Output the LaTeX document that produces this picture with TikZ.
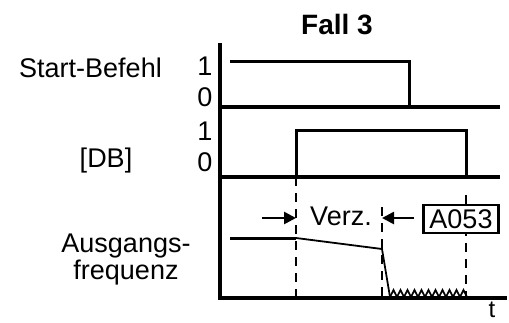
\documentclass[tikz,border=0pt]{standalone}
\usepackage{fontspec}
\setmainfont{Liberation Sans}
\usetikzlibrary{arrows.meta,positioning}

\begin{document}
\begin{tikzpicture}[x=1pt,y=-1pt,
    lbl/.style={font=\fontsize{27}{27}\selectfont,inner sep=0pt},
    sig/.style={line width=3pt,line join=miter},
    axisline/.style={line width=3.4pt},
    dashline/.style={line width=2.2pt,dash pattern=on 9pt off 7pt},
    delay/.style={line width=2.6pt,-{Triangle[length=12pt,width=12pt]}}]
  \useasboundingbox (0,0) rectangle (509,322);
  % Title and row labels
  \node[lbl,font=\bfseries\fontsize{28}{28}\selectfont,anchor=base] (title) at (337,34) {Fall 3};
  \node[lbl,anchor=base west] (start) at (19,77) {Start-Befehl};
  \node[lbl,anchor=base] (db) at (106,167) {[DB]};
  \node[lbl,align=center,anchor=base] (freq) at (126,279) {Ausgangs-\\frequenz};
  \foreach \y/\v/\n in {75/1/s1,106/0/s0,140/1/d1,171/0/d0}
    \node[lbl,anchor=base] (\n) at (205,\y) {\v};
  % Axes
  \draw[axisline] (220,43) -- (220,298);
  \draw[axisline] (218,298) -- (507,298);
  \node[lbl,font=\fontsize{24}{24}\selectfont,anchor=base] (t) at (492,317) {t};
  % Start-Befehl
  \draw[axisline] (220,107) -- (500,107);
  \draw[sig] (230,61) -- (409,61) -- (409,107);
  % [DB]
  \draw[axisline] (220,177) -- (500,177);
  \draw[sig] (296,177) -- (296,130) -- (466,130) -- (466,177);
  % Dashed markers
  \coordinate (m1) at (296,218);
  \coordinate (m2) at (382,218);
  \draw[dashline] (296,177) -- (296,298);
  \draw[dashline] (382,207) -- (382,298);
  \draw[dashline] (466,195) -- (466,298);
  % Ausgangsfrequenz
  \draw[sig] (230,238) -- (296,238);
  \draw[line width=1.8pt] (296,238) -- (382,249) -- (390,297);
  \draw[line width=1.7pt] (390,297)
    \foreach \i in {0,...,10} { -- ({393.5+7*\i},290) -- ({397+7*\i},297) };
  % Delay
  \node[lbl,anchor=base] (verz) at (341,225) {Verz.};
  \node[lbl,draw,line width=2.2pt,fill=white,inner xsep=3pt,inner ysep=3pt,
    minimum width=75pt,minimum height=28pt] (a053) at (461,219) {A053};
  \coordinate (l1) at (262,218);
  \coordinate (r1) at (414,218);
  \draw[delay] (l1) -- (m1);
  \draw[delay] (r1) -- (m2);
\end{tikzpicture}
\end{document}
